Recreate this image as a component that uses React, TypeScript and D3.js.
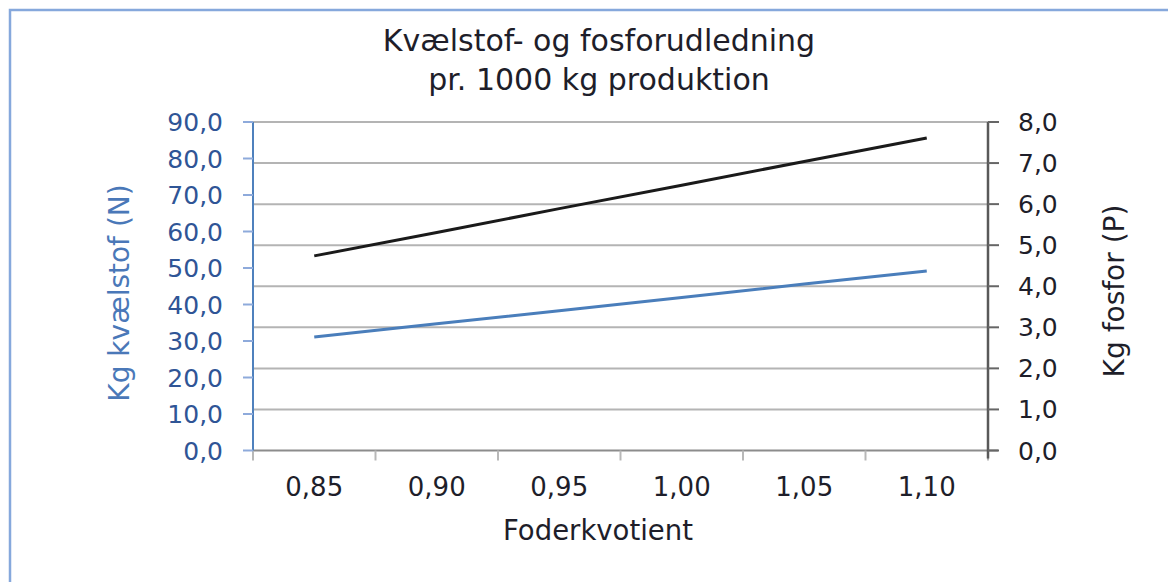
import React from "react";
import * as d3 from "d3";

const categories = ["0,85", "0,90", "0,95", "1,00", "1,05", "1,10"];
const nitrogen = [31.1, 34.7, 38.3, 41.9, 45.6, 49.2];
const phosphorus = [4.74, 5.31, 5.89, 6.46, 7.04, 7.61];
const leftTicks = [0, 10, 20, 30, 40, 50, 60, 70, 80, 90];
const rightTicks = [0, 1, 2, 3, 4, 5, 6, 7, 8];
const titleLines = ["Kvælstof- og fosforudledning", "pr. 1000 kg produktion"];
const xTitle = "Foderkvotient";
const leftTitle = "Kg kvælstof (N)";
const rightTitle = "Kg fosfor (P)";

const W = 1168;
const H = 582;
const L = 253;
const R = 988;
const T = 122;
const B = 450.5;
const FONT = "'DejaVu Sans', Verdana, sans-serif";

const fmt1 = (v: number) => v.toFixed(1).replace(".", ",");

export default function App() {
  const x = d3.scaleBand<string>().domain(categories).range([L, R]).padding(0);
  const yL = d3.scaleLinear().domain([0, 90]).range([B, T]);
  const yR = d3.scaleLinear().domain([0, 8]).range([B, T]);
  const cx = (c: string) => (x(c) as number) + x.bandwidth() / 2;

  const lineN = d3
    .line<number>()
    .x((_, i) => cx(categories[i]))
    .y((d) => yL(d));
  const lineP = d3
    .line<number>()
    .x((_, i) => cx(categories[i]))
    .y((d) => yR(d));

  const boundaries = categories.map((c) => x(c) as number).concat([R]);

  return (
    <svg
      width={W}
      height={H}
      style={{ position: "absolute", left: 0, top: 0, background: "#fff" }}
      fontFamily={FONT}
    >
      <rect x={10} y={10} width={W + 20} height={H + 20} fill="#fff" stroke="#86a8dc" strokeWidth={2.5} />

      {/* title */}
      <text textAnchor="middle" fill="#1e1e2a" fontSize={30}>
        <tspan x={599} y={51}>{titleLines[0]}</tspan>
        <tspan x={599} y={90}>{titleLines[1]}</tspan>
      </text>

      {/* gridlines */}
      {rightTicks.slice(1).map((t) => (
        <line key={"g" + t} x1={L} x2={R} y1={yR(t)} y2={yR(t)} stroke="#b4b4b4" strokeWidth={2} />
      ))}

      {/* bottom axis */}
      <line x1={L} x2={R + 10} y1={B} y2={B} stroke="#8c8c8c" strokeWidth={2} />
      {boundaries.map((b, i) => (
        <line key={"xt" + i} x1={b} x2={b} y1={B} y2={B + 10} stroke="#b8b8b8" strokeWidth={2} />
      ))}
      {categories.map((c) => (
        <text key={"xl" + c} x={cx(c)} y={496} textAnchor="middle" fontSize={26} fill="#1e1e2a">
          {c}
        </text>
      ))}
      <text x={598} y={540} textAnchor="middle" fontSize={27.5} fill="#1e1e2a">
        {xTitle}
      </text>

      {/* left axis */}
      <line x1={L} x2={L} y1={T} y2={B} stroke="#4f81bd" strokeWidth={2} />
      {leftTicks.map((t) => (
        <g key={"lt" + t}>
          <line x1={L - 10} x2={L} y1={yL(t)} y2={yL(t)} stroke="#8eaadb" strokeWidth={2} />
          <text x={223} y={yL(t)} dy="0.36em" textAnchor="end" fontSize={25} fill="#2f5596">
            {fmt1(t)}
          </text>
        </g>
      ))}
      <text
        transform={`translate(129,${293}) rotate(-90)`}
        textAnchor="middle"
        fontSize={28}
        fill="#4a78b8"
      >
        {leftTitle}
      </text>

      {/* right axis */}
      <line x1={R} x2={R} y1={T} y2={B + 8} stroke="#595959" strokeWidth={2.5} />
      {rightTicks.map((t) => (
        <g key={"rt" + t}>
          <line x1={R} x2={R + 11} y1={yR(t)} y2={yR(t)} stroke="#666" strokeWidth={2} />
          <text x={1018} y={yR(t)} dy="0.36em" textAnchor="start" fontSize={25} fill="#1e1e2a">
            {fmt1(t)}
          </text>
        </g>
      ))}
      <text
        transform={`translate(1124,${291}) rotate(-90)`}
        textAnchor="middle"
        fontSize={28}
        fill="#1e1e2a"
      >
        {rightTitle}
      </text>

      {/* series */}
      <path d={lineN(nitrogen) as string} fill="none" stroke="#4a7ebb" strokeWidth={3} />
      <path d={lineP(phosphorus) as string} fill="none" stroke="#1a1a1a" strokeWidth={3} />
    </svg>
  );
}
